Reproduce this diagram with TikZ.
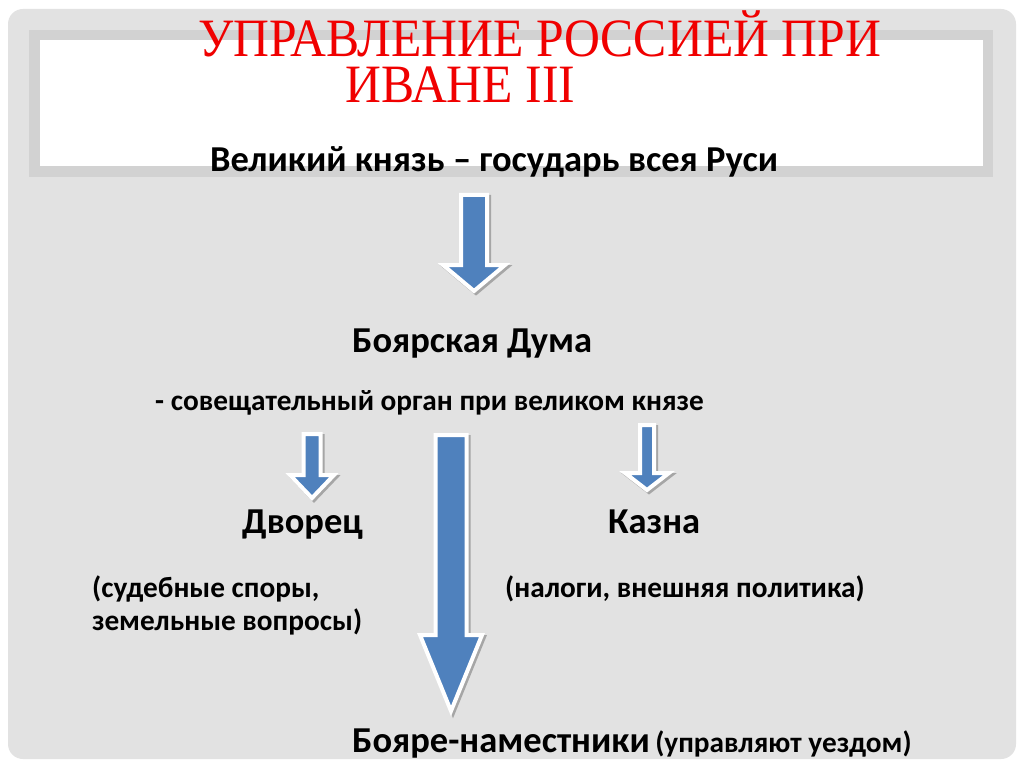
\documentclass[tikz,border=0pt]{standalone}
\usepackage{fontspec}
\setmainfont{Carlito}
\newfontfamily\titlefont[FakeStretch=0.92]{Liberation Serif}
\definecolor{panelgray}{HTML}{E2E2E2}
\definecolor{framegray}{HTML}{D2D2D2}
\definecolor{arrblue}{HTML}{4F81BD}
\definecolor{titlered}{HTML}{F00000}

% block arrow: x, top, shaft half width, head start, head half width, tip
\newcommand{\blockarrow}[6]{%
  \draw[arrshadow,shift={(2,2)}] (#1-#3,#2) -- (#1+#3,#2) -- (#1+#3,#4) -- (#1+#5,#4)
    -- (#1,#6) -- (#1-#5,#4) -- (#1-#3,#4) -- cycle;
  \draw[arrbody] (#1-#3,#2) -- (#1+#3,#2) -- (#1+#3,#4) -- (#1+#5,#4)
    -- (#1,#6) -- (#1-#5,#4) -- (#1-#3,#4) -- cycle;
}

\begin{document}
\begin{tikzpicture}[x=1pt,y=-1pt]

    \tikzset{txt/.style={anchor=base west,inner sep=0pt,font=\bfseries\fontsize{36.5}{38}\selectfont},
             small/.style={txt,font=\bfseries\fontsize{29.3}{31}\selectfont},
             titletxt/.style={anchor=base west,inner sep=0pt,align=left,text=titlered,font=\titlefont\fontsize{54}{46}\selectfont},
             arrshadow/.style={draw=gray!70,fill=gray!70,line width=4pt,line join=miter},
             arrbody/.style={draw=white,fill=arrblue,line width=4pt,line join=miter}}

    \fill[white] (0,0) rectangle (1024,767);
    \useasboundingbox (0,0) rectangle (1024,767);
    \fill[panelgray,rounded corners=15pt] (8,9) rectangle (1016,759);
    \fill[framegray] (29,30) rectangle (993,177);
    \fill[white] (40,40) rectangle (983,166);

    % two title lines in one node, anchored on the last baseline
    \node[titletxt] (title) at (198,103) {УПРАВЛЕНИЕ РОССИЕЙ ПРИ\\\hspace*{147pt}ИВАНЕ III};

    \node[txt] (knyaz) at (210,172) {Великий князь – государь всея Руси};
    \node[txt] (duma) at (352,352) {Боярская Дума};
    \node[small] (organ) at (155,410) {- совещательный орган при великом князе};
    \node[txt] (dvorec) at (242,533) {Дворец};
    \node[txt] (kazna) at (608,533) {Казна};
    \node[small] (spory) at (92,597) {(судебные споры,};
    \node[small] (zemlya) at (92,630) {земельные вопросы)};
    \node[small] (nalogi) at (505,597) {(налоги, внешняя политика)};
    \node[txt] (boyare) at (352,752) {Бояре-наместники};
    \node[small,anchor=base west,xshift=5pt] (uezd) at (boyare.base east) {(управляют уездом)};

    \blockarrow{474}{195}{13}{265}{31}{291}
    \blockarrow{312}{434}{8.5}{475}{22}{498}
    \blockarrow{647}{425}{7}{473}{22}{490}
    \blockarrow{451}{435}{15.5}{635}{31}{711}

\end{tikzpicture}
\end{document}
